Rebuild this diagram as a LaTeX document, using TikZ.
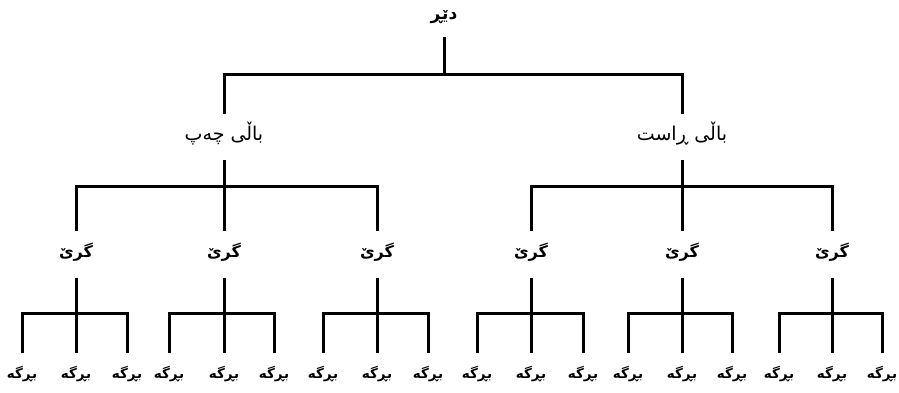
\documentclass[tikz,border=0pt]{standalone}
\usepackage{fontspec}
\newfontfamily\arabicfont[Script=Arabic]{DejaVu Sans}
\TeXXeTstate=1
\tikzset{
  lbl/.style={inner sep=0pt, outer sep=0pt, text height=12pt, text depth=5pt},
  rootlbl/.style={lbl, minimum height=42pt, font=\arabicfont\bfseries\fontsize{17}{19}\selectfont},
  winglbl/.style={lbl, minimum height=46pt, font=\arabicfont\fontsize{19}{21}\selectfont},
  knotlbl/.style={lbl, minimum height=47pt, font=\arabicfont\bfseries\fontsize{16}{18}\selectfont},
  leaflbl/.style={lbl, minimum height=44pt, font=\arabicfont\bfseries\fontsize{13.5}{16}\selectfont},
  edge/.style={draw=black, line width=3pt, line join=miter, line cap=butt}
}
\begin{document}
\begin{tikzpicture}[x=1pt,y=-1pt]
\useasboundingbox (0,0) rectangle (899,393);
% root
\node[rootlbl] (root) at (444,16) {\beginR دێڕ\endR};
% wings
\node[winglbl] (L) at (224,137) {\beginR باڵی چەپ\endR};
\node[winglbl] (R) at (682,137) {\beginR باڵی ڕاست\endR};
% knots
\foreach \n/\x in {k1/76,k2/224,k3/377,k4/531,k5/682,k6/832}{
  \node[knotlbl] (\n) at (\x,254) {\beginR گرێ\endR};
}
% leaves
\foreach \n/\x in {a1/22,a2/76,a3/127,b1/169,b2/224,b3/274,c1/323,c2/377,c3/428,
                   d1/477,d2/531,d3/583,e1/628,e2/682,e3/732,f1/779,f2/832,f3/882}{
  \node[leaflbl] (\n) at (\x,375) {\beginR بڕگە\endR};
}
% junctions
\coordinate (rj) at (444,75);
\coordinate (Lj) at (224,186);
\coordinate (Rj) at (682,186);
\foreach \k/\x in {k1/76,k2/224,k3/377,k4/531,k5/682,k6/832}{
  \coordinate (\k j) at (\x,313);
}
% root edges
\draw[edge] (root.south) -- (rj);
\draw[edge] (L.north) |- (rj) -| (R.north);
% wing edges
\draw[edge] (L.south) -- (Lj);
\draw[edge] (k1.north) |- (Lj) -| (k3.north);
\draw[edge] (Lj) -- (k2.north);
\draw[edge] (R.south) -- (Rj);
\draw[edge] (k4.north) |- (Rj) -| (k6.north);
\draw[edge] (Rj) -- (k5.north);
% knot edges
\foreach \k/\p/\q/\r in {k1/a1/a2/a3,k2/b1/b2/b3,k3/c1/c2/c3,k4/d1/d2/d3,k5/e1/e2/e3,k6/f1/f2/f3}{
  \draw[edge] (\k.south) -- (\k j);
  \draw[edge] (\p.north) |- (\k j) -| (\r.north);
  \draw[edge] (\k j) -- (\q.north);
}
\end{tikzpicture}
\end{document}
